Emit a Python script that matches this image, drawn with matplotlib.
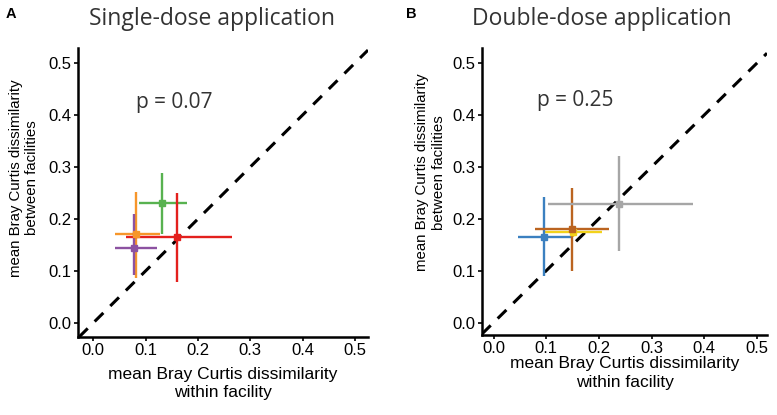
import matplotlib
matplotlib.use("Agg")
import matplotlib.pyplot as plt

plt.rcParams['font.family'] = ['Liberation Sans', 'DejaVu Sans']

# Panel A: single-dose
a_x = [0.082, 0.078, 0.131, 0.160]
a_y = [0.172, 0.144, 0.230, 0.166]
a_xlo = [0.041, 0.041, 0.088, 0.062]
a_xhi = [0.128, 0.122, 0.179, 0.265]
a_ylo = [0.087, 0.092, 0.171, 0.079]
a_yhi = [0.252, 0.210, 0.289, 0.251]
a_colors = ['#f7962a', '#8c52a1', '#58b250', '#e3201d']

# Panel B: double-dose
b_x = [0.150, 0.095, 0.149, 0.239]
b_y = [0.174, 0.165, 0.180, 0.229]
b_xlo = [0.098, 0.047, 0.078, 0.104]
b_xhi = [0.205, 0.146, 0.220, 0.379]
b_ylo = [0.165, 0.089, 0.099, 0.137]
b_yhi = [0.183, 0.242, 0.259, 0.320]
b_colors = ['#f2d21b', '#3b80c0', '#bb6420', '#a6a6a6']

ticks = [0.0, 0.1, 0.2, 0.3, 0.4, 0.5]
tick_labels = ['0.0', '0.1', '0.2', '0.3', '0.4', '0.5']

fig = plt.figure(figsize=(7.77, 4.15), dpi=100)

def panel(rect, xs, ys, xlo, xhi, ylo, yhi, colors, xlim, ylim, title, title_x, letter, letter_x,
          ptext, pxy, xlabelpad, ylab_xy):
    ax = fig.add_axes(rect)
    ax.axline((0, 0), slope=1, color='black', lw=2.2, dashes=(4, 3.2), zorder=1)
    for x, y, l, h, yl, yh, c in zip(xs, ys, xlo, xhi, ylo, yhi, colors):
        ax.errorbar([x], [y], xerr=[[x - l], [h - x]], yerr=[[y - yl], [yh - y]],
                    fmt='s', color=c, ms=4.5, lw=1.7, capsize=0, zorder=3)
    ax.set_xlim(*xlim)
    ax.set_ylim(*ylim)
    ax.set_xticks(ticks)
    ax.set_xticklabels(tick_labels)
    ax.set_yticks(ticks)
    ax.set_yticklabels(tick_labels)
    for s in ['top', 'right']:
        ax.spines[s].set_visible(False)
    for s in ['left', 'bottom']:
        ax.spines[s].set_linewidth(1.8)
    ax.tick_params(direction='out', length=3, width=1.2, labelsize=12, pad=1.5, colors='black')
    ax.set_xlabel('mean Bray Curtis dissimilarity\nwithin facility', fontsize=12.5, labelpad=xlabelpad, linespacing=1.3)
    ax.set_ylabel('mean Bray Curtis dissimilarity\nbetween facilities', fontsize=10.8, linespacing=1.25,
                  va='center')
    ax.yaxis.set_label_coords(*ylab_xy)
    fig.text(title_x, 0.955, title, fontsize=16.5, family='Open Sans', ha='center', va='center', color='#333333')
    fig.text(letter_x, 0.967, letter, fontsize=10.5, fontweight='bold', ha='left', va='center')
    ax.text(pxy[0], pxy[1], ptext, fontsize=15, family='Open Sans', color='#333333', transform=ax.transData,
            ha='left', va='center')
    return ax

panel([78 / 777, 1 - 337 / 415, 290 / 777, 289 / 415], a_x, a_y, a_xlo, a_xhi, a_ylo, a_yhi, a_colors,
      (-0.029, 0.525), (-0.027, 0.529), 'Single-dose application', 212 / 777, 'A', 6 / 777,
      'p = 0.07', (0.082, 0.425), 6, (-0.186, 0.55))
panel([482 / 777, 1 - 335 / 415, 285 / 777, 287 / 415], b_x, b_y, b_xlo, b_xhi, b_ylo, b_yhi, b_colors,
      (-0.022, 0.519), (-0.024, 0.529), 'Double-dose application', 602 / 777, 'B', 406 / 777,
      'p = 0.25', (0.083, 0.428), 0, (-0.182, 0.566))

fig.savefig('out.png', dpi=100)
